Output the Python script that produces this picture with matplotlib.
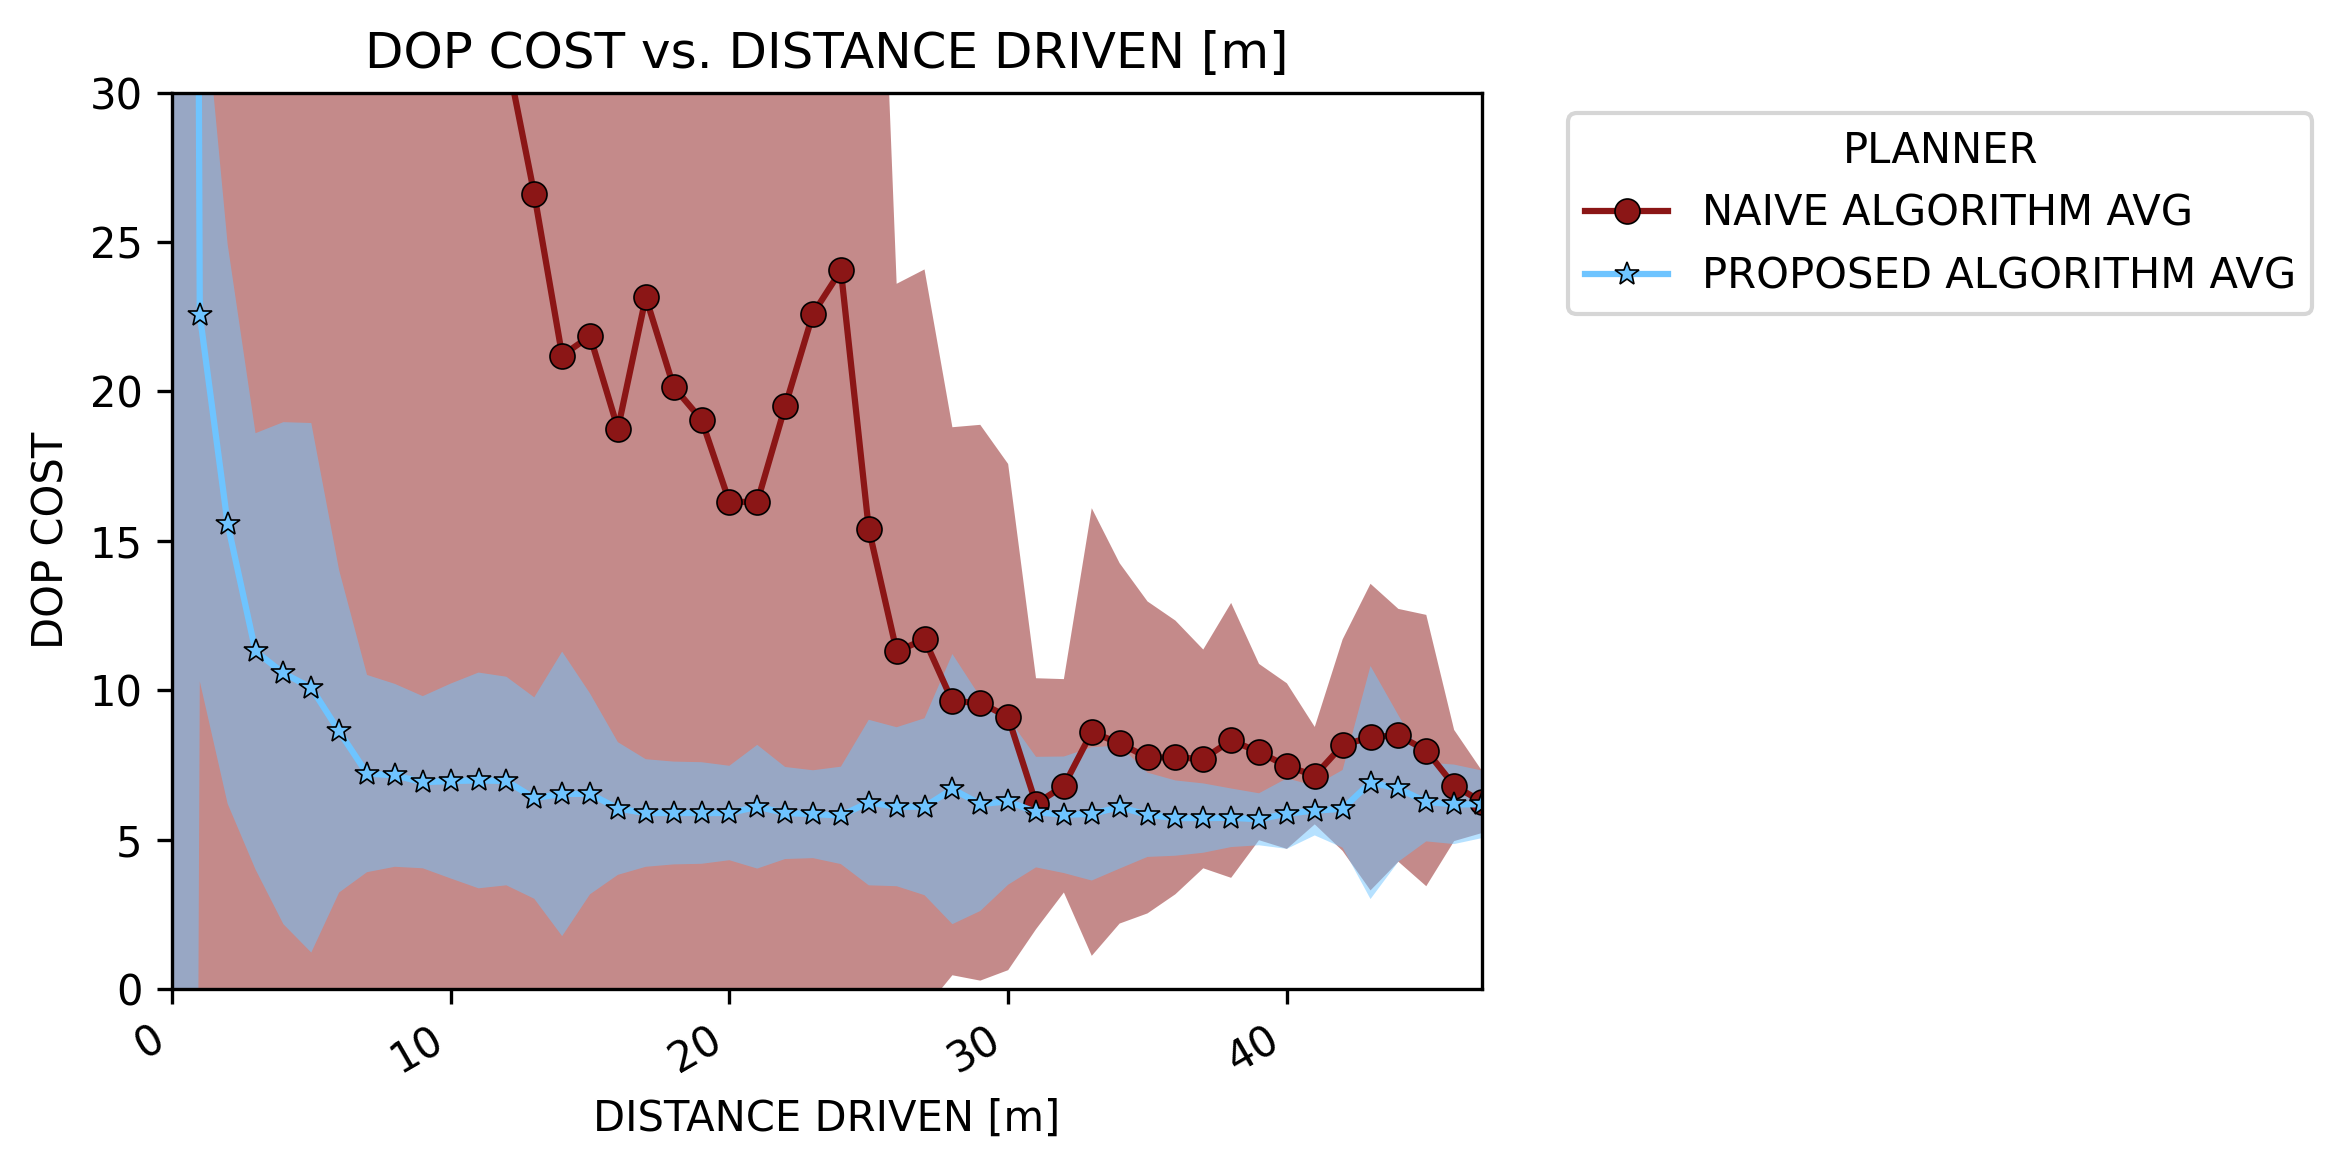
import numpy as np
import matplotlib
matplotlib.use('Agg')
import matplotlib.pyplot as plt

# === prepare data ===
# distance driven [m], one sample per metre
distance = np.arange(0, 48)

# naive planner: average DOP cost and standard deviation per metre
naive_avg = [120, 95, 78, 66, 58, 52, 47, 43, 40, 37, 35, 33, 31.3,
             26.6, 21.2, 21.85, 18.75, 23.15, 20.15, 19.05, 16.3, 16.3,
             19.5, 22.6, 24.05, 15.4, 11.3, 11.7, 9.63, 9.58, 9.1, 6.2,
             6.8, 8.6, 8.22, 7.75, 7.75, 7.7, 8.32, 7.93, 7.46, 7.14,
             8.16, 8.43, 8.49, 7.98, 6.81, 6.26]
naive_std = [150, 120, 100, 85, 75, 68, 62, 57, 53, 50, 47, 45, 43,
             35, 30, 30, 28, 32, 29, 28, 26, 25, 28, 32, 34, 31.9,
             12.3, 12.38, 9.17, 9.3, 8.47, 4.2, 3.57, 7.49, 6.03, 5.22,
             4.58, 3.66, 4.6, 2.95, 2.77, 1.63, 3.54, 5.13, 4.23, 4.54,
             1.86, 1.04]

# proposed planner: average DOP cost and standard deviation per metre
proposed_avg = [250, 22.57, 15.56, 11.3, 10.57, 10.08, 8.62, 7.21, 7.15,
                6.92, 6.96, 6.98, 6.96, 6.39, 6.53, 6.53, 6.04, 5.89, 5.89,
                5.89, 5.89, 6.1, 5.89, 5.85, 5.81, 6.24, 6.1, 6.1, 6.69,
                6.19, 6.28, 5.92, 5.83, 5.86, 6.09, 5.83, 5.72, 5.72, 5.73,
                5.68, 5.87, 5.97, 6.03, 6.91, 6.71, 6.26, 6.18, 6.18]
proposed_std = [450, 12.27, 9.36, 7.3, 8.4, 8.86, 5.39, 3.3, 3.06, 2.88,
                3.26, 3.61, 3.49, 3.37, 4.76, 3.36, 2.22, 1.8, 1.72, 1.7,
                1.58, 2.07, 1.54, 1.47, 1.63, 2.77, 2.66, 2.96, 4.52, 3.58,
                2.79, 1.85, 1.95, 2.23, 2.06, 1.41, 1.26, 1.16, 0.98, 0.87,
                1.18, 0.83, 1.3, 3.9, 2.45, 1.32, 1.33, 1.13]

planners = ['NAIVE ALGORITHM AVG', 'PROPOSED ALGORITHM AVG']
colors = ['#8b1616', '#6ec4ff']
markers = ['o', '*']

# === plot data ===
fig = plt.figure(figsize=(2342 / 300, 1170 / 300), dpi=300)
ax = fig.add_axes([0.0734, 0.1547, 0.5594, 0.7662])

series = [(naive_avg, naive_std), (proposed_avg, proposed_std)]
for (avg, std), label, color, marker in zip(series, planners, colors, markers):
    avg = np.array(avg)
    std = np.array(std)
    ax.fill_between(distance, avg - std, avg + std, color=color, alpha=0.5,
                    linewidth=0)
    ax.plot(distance, avg, color=color, marker=marker, markersize=6,
            markerfacecolor=color, markeredgecolor='black',
            markeredgewidth=0.4, linewidth=1.5, label=label)

ax.set_xlim(0, 47)
ax.set_ylim(0, 30)
ax.set_title('DOP COST vs. DISTANCE DRIVEN [m]')
ax.set_xlabel('DISTANCE DRIVEN [m]')
ax.set_ylabel('DOP COST')
plt.setp(ax.get_xticklabels(), rotation=30, ha='right')

ax.legend(title='PLANNER', bbox_to_anchor=(1.05, 1), loc='upper left')

plt.savefig('out.png', dpi=300)
